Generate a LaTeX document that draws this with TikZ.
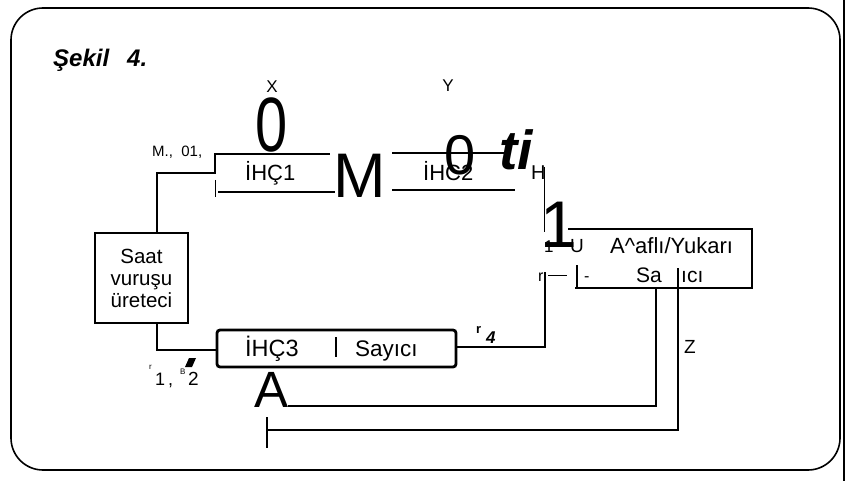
\documentclass[tikz,border=0pt]{standalone}
\usepackage{fontspec}
\usepackage{graphicx}
\setmainfont{Liberation Sans}
\newcommand{\fsz}[1]{\fontsize{#1}{#1}\selectfont}
\begin{document}
\begin{tikzpicture}[x=1pt,y=-1pt,
  boxline/.style={line width=2.8pt},
  wire/.style={line width=2.4pt},
  thinline/.style={line width=1pt},
  txt/.style={inner sep=0pt, anchor=base west}]
\useasboundingbox (0,0) rectangle (853,481);
% frame
\draw[line width=1.6pt, rounded corners=32pt] (11,8) rectangle (840,470);
\draw[line width=1.6pt] (844,0) -- (844,481);
% title
\node[txt, font=\bfseries\itshape\fsz{24}] (title) at (53,67) {Şekil};
\node[txt, font=\bfseries\itshape\fsz{24}] (title4) at (127,67) {4.};
% top labels
\node[inner sep=0pt, anchor=base, font=\fsz{17}] (lx) at (272,93) {X};
\node[inner sep=0pt, anchor=base, font=\fsz{17}] (ly) at (448,92) {Y};
\node[inner sep=0pt, anchor=base, font=\fsz{77}] (bigzeroa) at (272,152) {\scalebox{0.75}[1]{0}};
\node[txt, font=\fsz{15}] (m01) at (152,157) {M.,\ \ 01,};
% IHC1
\node[txt, font=\fsz{22}] (ihc1) at (245,180) {İHÇ1};
\coordinate (c1) at (157,233);
\coordinate (c2) at (157,173);
\coordinate (c3) at (215,173);
\coordinate (c4) at (215,154);
\coordinate (c5) at (330,154);
\draw[wire] (c1) -- (c2) -- (c3) -- (c4) -- (c5);
\coordinate (b1a) at (218,192);
\coordinate (b1b) at (335,192);
\draw[boxline] (b1a) -- (b1b);
\draw[thinline] (215,180) -- (215,197);
\node[txt, font=\fsz{63}] (bigm) at (333,197) {M};
% IHC2
\coordinate (t2a) at (392,153);
\coordinate (t2b) at (505,153);
\coordinate (b2a) at (392,190);
\coordinate (b2b) at (515,190);
\draw[boxline] (t2a) -- (t2b);
\draw[boxline] (b2a) -- (b2b);
\node[txt, font=\fsz{22}] (ihc2) at (423,180) {İHC2};
\node[txt, font=\fsz{56}] (bigzerob) at (444,175) {0};
\node[txt, font=\fsz{20}] (lh) at (531,179) {H};
\node[txt, font=\bfseries\itshape\fsz{55}] (ti) at (499,170) {ti};
\draw[thinline] (544,167) -- (544,232);
% up/down counter
\node[txt, font=\fsz{66}] (bigone) at (540,247) {1};
\draw[line width=2pt] (563,246) -- (570,246);
\node[txt, font=\fsz{17}] (one) at (544,252) {1};
\node[txt, font=\fsz{19}] (lu) at (570,252) {U};
\coordinate (k1) at (568,229);
\coordinate (k2) at (752,229);
\coordinate (k3) at (752,288);
\coordinate (k4) at (575,288);
\draw[boxline] (k1) -- (k2) -- (k3) -- (k4);
\draw[line width=1.8pt] (577,265) -- (577,288);
\node[txt, font=\fsz{22}] (updown) at (610,253) {A\textasciicircum aflı/Yukarı};
\node[txt, font=\fsz{21}] (sa) at (636,282) {Sa};
\node[txt, font=\fsz{21}] (ici) at (681,282) {ıcı};
\node[txt, font=\fsz{16}] (lr) at (538,281) {r};
\draw[thinline] (548,275) -- (567,275);
\node[txt, font=\fsz{16}] (dash) at (584,281) {-};
% clock
\node[draw, boxline, minimum width=93pt, minimum height=90pt, inner sep=0pt,
      align=center, font=\fontsize{20.5}{22}\selectfont] (clock) at (141.5,278)
      {Saat\\vuruşu\\üreteci};
% IHC3
\node[draw, boxline, rounded corners=3pt, minimum width=239pt, minimum height=37pt, inner sep=0pt] (ihc3box) at (336.5,348.5) {};
\node[txt, font=\fsz{23.5}] (ihc3) at (245,356) {İHÇ3};
\draw[line width=1.2pt] (336,337) -- (336,357);
\node[txt, font=\fsz{22.5}] (sayici) at (355,356) {Sayıcı};
\coordinate (d1) at (157,323);
\coordinate (d2) at (157,350);
\draw[wire] (d1) -- (d2) -- (d2 -| ihc3box.west);
\coordinate (e1) at (545,347);
\coordinate (e2) at (545,272);
\draw[wire] (ihc3box.east |- e1) -- (e1) -- (e2);
\node[txt, font=\bfseries\fsz{13}] (rr) at (476,333) {r};
\node[txt, font=\bfseries\itshape\fsz{17}] (four) at (486,343) {4};
% feedback lines
\coordinate (f1) at (656,288);
\coordinate (f2) at (656,406);
\coordinate (f3) at (288,406);
\draw[wire] (f1) -- (f2) -- (f3);
\coordinate (g1) at (678,268);
\coordinate (g2) at (678,430);
\coordinate (g3) at (267,430);
\draw[wire] (g1) -- (g2) -- (g3);
\draw[line width=1.5pt] (267,417) -- (267,448);
\node[txt, font=\fsz{19}] (lz) at (684,353) {Z};
\node[txt, font=\fsz{51}] (biga) at (254,407) {A};
% bottom-left labels
\node[txt, font=\fsz{8}] (sr) at (149,369) {r};
\node[txt, font=\fsz{18}] (lone) at (155,385) {1\,,};
\node[txt, font=\fsz{8}] (sb) at (180,374) {B};
\fill (185,367) -- (189,358) -- (196,358) -- (192,367) -- cycle;
\node[txt, font=\fsz{19}] (ltwo) at (188,385) {2};
\end{tikzpicture}
\end{document}
